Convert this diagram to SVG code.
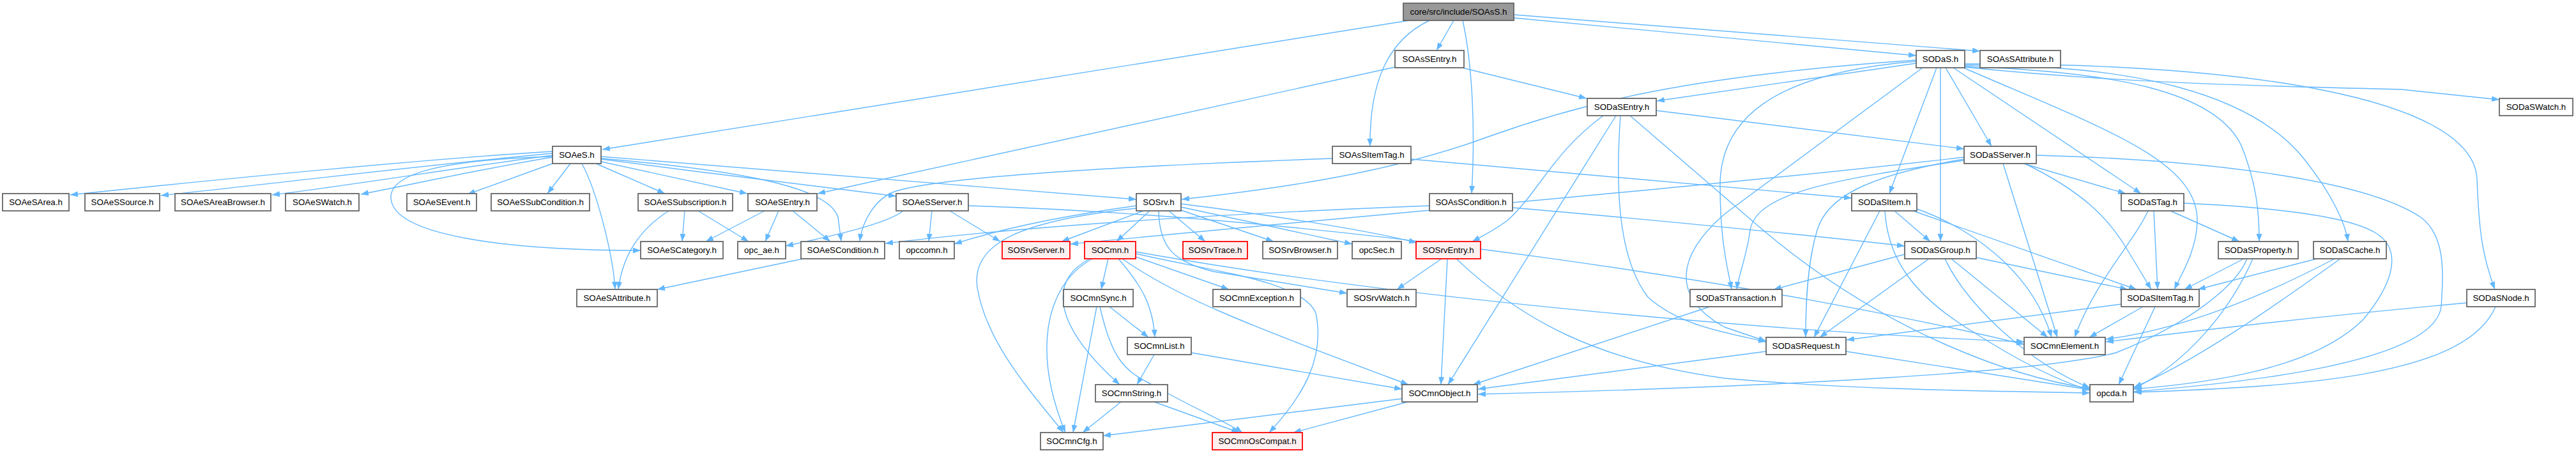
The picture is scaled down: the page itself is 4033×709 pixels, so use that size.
<svg xmlns="http://www.w3.org/2000/svg" width="4033" height="709" viewBox="0 0 4033 709">
<style>
.n rect{fill:#ffffff;stroke:#666666;stroke-width:1.8}
.r rect{fill:#fff0f0;stroke:#ff0000;stroke-width:1.8}
.root rect{fill:#999999;stroke:#666666;stroke-width:1.8}
text{font-family:"Liberation Sans",Arial,sans-serif;font-size:13.33px;fill:#000000;text-anchor:middle}
.e path{fill:none;stroke:#63b8ff;stroke-width:1.4;marker-end:url(#a)}
</style>
<defs>
<marker id="a" markerUnits="userSpaceOnUse" markerWidth="13" markerHeight="10" refX="12" refY="4.5" orient="auto">
<path d="M0,0 L12,4.5 L0,9 z" fill="#63b8ff"/>
</marker>
</defs>
<rect width="4033" height="709" fill="#ffffff"/>
<g class="e" id="edges">
<path d="M2206,32 L943,234"/>
<path d="M2276,32 L2249,79"/>
<path d="M2238,32 C2175,62 2144,125 2145,229"/>
<path d="M2290,32 C2305,100 2310,200 2304,303"/>
<path d="M2370,28 L3000,87"/>
<path d="M2370,23 L3100,80"/>
<path d="M2289,106 L2484,154"/>
<path d="M2184,105 L1280,303"/>
<path d="M3000,99 L2594,158"/>
<path d="M3000,94 C2650,118 2480,160 2330,214 C2200,262 2050,290 1850,312"/>
<path d="M3000,96 C2770,115 2693,190 2693,290 C2693,380 2705,420 2711,453"/>
<path d="M3010,106 L2700,335 C2625,400 2615,465 2700,512 L2765,534"/>
<path d="M3032,106 L2958,303"/>
<path d="M3038,106 L3038,378"/>
<path d="M3046,106 L3118,229"/>
<path d="M3058,106 L3352,303"/>
<path d="M3074,106 C3290,200 3440,250 3440,345 C3440,390 3415,430 3404,453"/>
<path d="M3076,104 C3300,112 3470,140 3510,230 C3533,290 3537,330 3537,378"/>
<path d="M3076,102 C3350,100 3520,150 3600,240 C3650,300 3672,350 3676,378"/>
<path d="M3076,100 C3500,98 3872,150 3878,280 C3881,360 3886,400 3906,453"/>
<path d="M3076,105 C3300,128 3500,134 3760,140 L3913,156"/>
<path d="M3075,246 C2700,290 2100,340 1676,382"/>
<path d="M3075,251 C2880,280 2750,300 2740,360 C2735,400 2722,430 2719,453"/>
<path d="M3075,249 C2920,275 2860,310 2845,360 C2830,410 2827,470 2827,528"/>
<path d="M3136,256 L3221,528"/>
<path d="M3168,256 L3328,303"/>
<path d="M3170,256 C3260,300 3300,340 3330,390 L3368,453"/>
<path d="M3188,243 C3450,250 3700,280 3790,340 C3830,370 3825,430 3822,480 C3810,570 3500,600 3341,613"/>
<path d="M3419,318 C3570,325 3680,340 3720,365 C3760,390 3750,440 3700,500 C3620,580 3450,600 3341,609"/>
<path d="M3363,330 C3340,380 3280,440 3248,528"/>
<path d="M3372,330 L3378,453"/>
<path d="M3398,330 L3506,378"/>
<path d="M2943,330 L2840,528"/>
<path d="M2951,330 C2955,400 2990,460 3090,520 C3160,565 3220,595 3272,611"/>
<path d="M2966,330 L3022,378"/>
<path d="M2995,330 L3345,453"/>
<path d="M3001,327 C3080,355 3180,420 3212,528"/>
<path d="M2982,398 L2777,453"/>
<path d="M3020,405 L2849,528"/>
<path d="M3045,405 C3080,480 3180,570 3272,607"/>
<path d="M3055,405 L3206,528"/>
<path d="M3094,403 L3331,453"/>
<path d="M3513,405 L3420,453"/>
<path d="M3518,405 C3500,450 3420,510 3313,552 C3200,582 2800,605 2314,617"/>
<path d="M3527,405 C3490,490 3420,570 3341,608"/>
<path d="M3627,405 L3441,453"/>
<path d="M3655,405 C3550,460 3420,515 3297,531"/>
<path d="M3664,405 C3560,480 3430,570 3341,606"/>
<path d="M3862,474 C3600,498 3420,520 3297,535"/>
<path d="M3907,480 C3860,590 3600,605 3341,614"/>
<path d="M3321,476 L2891,532"/>
<path d="M3355,480 L3271,528"/>
<path d="M3374,480 L3317,602"/>
<path d="M2890,550 L3272,610"/>
<path d="M2765,550 L2314,609"/>
<path d="M2257,405 L2187,453"/>
<path d="M2266,405 L2256,602"/>
<path d="M2280,405 C2380,500 2500,565 2700,592 C2900,610 3100,612 3272,615"/>
<path d="M1800,330 L1748,378"/>
<path d="M1830,330 L1887,378"/>
<path d="M1849,329 L1994,378"/>
<path d="M1849,324 L2117,382"/>
<path d="M1849,319 C2000,338 2150,362 2218,380"/>
<path d="M1790,330 L1662,378"/>
<path d="M1779,322 C1650,340 1560,360 1494,382"/>
<path d="M1779,326 C1600,345 1520,380 1530,450 C1545,540 1620,620 1665,677"/>
<path d="M1814,330 C1815,390 1840,410 1900,425 L2109,459"/>
<path d="M1735,405 L1724,453"/>
<path d="M1751,405 C1790,450 1805,480 1808,528"/>
<path d="M1778,402 L1924,453"/>
<path d="M1706,405 C1640,440 1650,510 1753,602"/>
<path d="M1710,405 C1630,450 1620,560 1668,677"/>
<path d="M1757,405 C1850,470 1960,510 2205,602"/>
<path d="M1778,397 C1900,425 2040,440 2060,490 C2075,560 2040,620 1987,677"/>
<path d="M1778,394 C2200,470 2800,520 3169,535"/>
<path d="M1737,480 L1798,528"/>
<path d="M1717,480 L1680,677"/>
<path d="M1722,480 C1740,560 1760,580 1800,600 C1870,640 1920,660 1945,677"/>
<path d="M1807,555 L1780,602"/>
<path d="M1865,552 L2195,609"/>
<path d="M1755,629 L1695,677"/>
<path d="M1807,629 L1940,677"/>
<path d="M2195,624 L1727,682"/>
<path d="M2204,629 L2025,677"/>
<path d="M2510,181 C2430,240 2410,300 2360,345 C2340,360 2320,370 2305,378"/>
<path d="M2530,181 L2267,602"/>
<path d="M2537,181 C2530,280 2530,400 2580,465 C2630,510 2700,520 2765,535"/>
<path d="M2552,181 L2760,360 C2950,520 3150,590 3272,608"/>
<path d="M2593,173 L3075,233"/>
<path d="M2677,480 L2306,602"/>
<path d="M1487,330 L1566,378"/>
<path d="M1459,330 L1454,378"/>
<path d="M1414,330 C1390,350 1300,370 1230,385"/>
<path d="M1516,322 C2100,340 2800,450 3169,539"/>
<path d="M1047,330 C1000,360 975,400 968,453"/>
<path d="M1072,330 L1068,378"/>
<path d="M1093,330 L1172,378"/>
<path d="M1197,330 L1105,378"/>
<path d="M1219,330 L1198,378"/>
<path d="M1241,330 L1300,378"/>
<path d="M865,237 C650,250 350,280 110,305"/>
<path d="M865,240 C650,260 450,285 252,306"/>
<path d="M865,243 C700,265 550,290 426,305"/>
<path d="M865,246 C750,265 640,290 565,304"/>
<path d="M865,256 L732,304"/>
<path d="M893,256 L857,303"/>
<path d="M933,256 L1041,303"/>
<path d="M941,253 L1170,303"/>
<path d="M941,249 C1100,270 1300,295 1403,307"/>
<path d="M941,245 C1200,265 1500,290 1779,312"/>
<path d="M865,245 C700,250 610,270 612,310 C615,370 800,392 1003,392"/>
<path d="M911,256 C935,300 960,400 963,453"/>
<path d="M941,248 C1200,270 1300,300 1312,340 L1317,378"/>
<path d="M1257,405 L1029,453"/>
<path d="M2086,248 C1700,262 1460,280 1400,300 C1370,312 1350,345 1346,378"/>
<path d="M2209,249 L2899,310"/>
<path d="M2238,322 C1900,335 1600,355 1386,381"/>
<path d="M2368,325 C2600,345 2850,370 2982,385"/>
</g>
<g id="root" class="root"><rect x="2197" y="5" width="173" height="27"/><text x="2283.5" y="23">core/src/include/SOAsS.h</text></g>
<g id="SOAsSEntry" class="n"><rect x="2184" y="79" width="108" height="27"/><text x="2238" y="97">SOAsSEntry.h</text></g>
<g id="SODaS" class="n"><rect x="3000" y="79" width="76" height="27"/><text x="3038" y="97">SODaS.h</text></g>
<g id="SOAsSAttribute" class="n"><rect x="3100" y="79" width="126" height="27"/><text x="3163" y="97">SOAsSAttribute.h</text></g>
<g id="SODaSEntry" class="n"><rect x="2485" y="154" width="108" height="27"/><text x="2539" y="172">SODaSEntry.h</text></g>
<g id="SODaSWatch" class="n"><rect x="3913" y="154" width="115" height="27"/><text x="3970.5" y="172">SODaSWatch.h</text></g>
<g id="SOAeS" class="n"><rect x="865" y="229" width="76" height="27"/><text x="903" y="247">SOAeS.h</text></g>
<g id="SOAsSItemTag" class="n"><rect x="2086" y="229" width="123" height="27"/><text x="2147.5" y="247">SOAsSItemTag.h</text></g>
<g id="SODaSServer" class="n"><rect x="3075" y="229" width="113" height="27"/><text x="3131.5" y="247">SODaSServer.h</text></g>
<g id="SOAeSArea" class="n"><rect x="4" y="303" width="104" height="27"/><text x="56" y="321">SOAeSArea.h</text></g>
<g id="SOAeSSource" class="n"><rect x="133" y="303" width="117" height="27"/><text x="191.5" y="321">SOAeSSource.h</text></g>
<g id="SOAeSAreaBrowser" class="n"><rect x="274" y="303" width="150" height="27"/><text x="349" y="321">SOAeSAreaBrowser.h</text></g>
<g id="SOAeSWatch" class="n"><rect x="447" y="303" width="115" height="27"/><text x="504.5" y="321">SOAeSWatch.h</text></g>
<g id="SOAeSEvent" class="n"><rect x="637" y="303" width="109" height="27"/><text x="691.5" y="321">SOAeSEvent.h</text></g>
<g id="SOAeSSubCondition" class="n"><rect x="769" y="303" width="154" height="27"/><text x="846" y="321">SOAeSSubCondition.h</text></g>
<g id="SOAeSSubscription" class="n"><rect x="999" y="303" width="148" height="27"/><text x="1073" y="321">SOAeSSubscription.h</text></g>
<g id="SOAeSEntry" class="n"><rect x="1171" y="303" width="108" height="27"/><text x="1225" y="321">SOAeSEntry.h</text></g>
<g id="SOAeSServer" class="n"><rect x="1403" y="303" width="113" height="27"/><text x="1459.5" y="321">SOAeSServer.h</text></g>
<g id="SOSrv" class="n"><rect x="1779" y="303" width="70" height="27"/><text x="1814" y="321">SOSrv.h</text></g>
<g id="SOAsSCondition" class="n"><rect x="2238" y="303" width="130" height="27"/><text x="2303" y="321">SOAsSCondition.h</text></g>
<g id="SODaSItem" class="n"><rect x="2899" y="303" width="102" height="27"/><text x="2950" y="321">SODaSItem.h</text></g>
<g id="SODaSTag" class="n"><rect x="3321" y="303" width="98" height="27"/><text x="3370" y="321">SODaSTag.h</text></g>
<g id="SOAeSCategory" class="n"><rect x="1003" y="378" width="129" height="27"/><text x="1067.5" y="396">SOAeSCategory.h</text></g>
<g id="opc_ae" class="n"><rect x="1155" y="378" width="75" height="27"/><text x="1192.5" y="396">opc_ae.h</text></g>
<g id="SOAeSCondition" class="n"><rect x="1254" y="378" width="131" height="27"/><text x="1319.5" y="396">SOAeSCondition.h</text></g>
<g id="opccomn" class="n"><rect x="1408" y="378" width="86" height="27"/><text x="1451" y="396">opccomn.h</text></g>
<g id="SOSrvServer" class="r"><rect x="1569" y="378" width="106" height="27"/><text x="1622" y="396">SOSrvServer.h</text></g>
<g id="SOCmn" class="r"><rect x="1698" y="378" width="80" height="27"/><text x="1738" y="396">SOCmn.h</text></g>
<g id="SOSrvTrace" class="r"><rect x="1852" y="378" width="101" height="27"/><text x="1902.5" y="396">SOSrvTrace.h</text></g>
<g id="SOSrvBrowser" class="n"><rect x="1977" y="378" width="117" height="27"/><text x="2035.5" y="396">SOSrvBrowser.h</text></g>
<g id="opcSec" class="n"><rect x="2117" y="378" width="77" height="27"/><text x="2155.5" y="396">opcSec.h</text></g>
<g id="SOSrvEntry" class="r"><rect x="2217" y="378" width="101" height="27"/><text x="2267.5" y="396">SOSrvEntry.h</text></g>
<g id="SODaSGroup" class="n"><rect x="2982" y="378" width="112" height="27"/><text x="3038" y="396">SODaSGroup.h</text></g>
<g id="SODaSProperty" class="n"><rect x="3473" y="378" width="125" height="27"/><text x="3535.5" y="396">SODaSProperty.h</text></g>
<g id="SODaSCache" class="n"><rect x="3622" y="378" width="114" height="27"/><text x="3679" y="396">SODaSCache.h</text></g>
<g id="SOAeSAttribute" class="n"><rect x="903" y="453" width="126" height="27"/><text x="966" y="471">SOAeSAttribute.h</text></g>
<g id="SOCmnSync" class="n"><rect x="1665" y="453" width="109" height="27"/><text x="1719.5" y="471">SOCmnSync.h</text></g>
<g id="SOCmnException" class="n"><rect x="1899" y="453" width="137" height="27"/><text x="1967.5" y="471">SOCmnException.h</text></g>
<g id="SOSrvWatch" class="n"><rect x="2109" y="453" width="108" height="27"/><text x="2163" y="471">SOSrvWatch.h</text></g>
<g id="SODaSTransaction" class="n"><rect x="2646" y="453" width="144" height="27"/><text x="2718" y="471">SODaSTransaction.h</text></g>
<g id="SODaSItemTag" class="n"><rect x="3321" y="453" width="122" height="27"/><text x="3382" y="471">SODaSItemTag.h</text></g>
<g id="SODaSNode" class="n"><rect x="3862" y="453" width="107" height="27"/><text x="3915.5" y="471">SODaSNode.h</text></g>
<g id="SOCmnList" class="n"><rect x="1765" y="528" width="100" height="27"/><text x="1815" y="546">SOCmnList.h</text></g>
<g id="SODaSRequest" class="n"><rect x="2765" y="528" width="125" height="27"/><text x="2827.5" y="546">SODaSRequest.h</text></g>
<g id="SOCmnElement" class="n"><rect x="3169" y="528" width="127" height="27"/><text x="3232.5" y="546">SOCmnElement.h</text></g>
<g id="SOCmnString" class="n"><rect x="1715" y="602" width="113" height="27"/><text x="1771.5" y="620">SOCmnString.h</text></g>
<g id="SOCmnObject" class="n"><rect x="2195" y="602" width="118" height="27"/><text x="2254" y="620">SOCmnObject.h</text></g>
<g id="opcda" class="n"><rect x="3272" y="602" width="68" height="27"/><text x="3306" y="620">opcda.h</text></g>
<g id="SOCmnCfg" class="n"><rect x="1629" y="677" width="98" height="27"/><text x="1678" y="695">SOCmnCfg.h</text></g>
<g id="SOCmnOsCompat" class="r"><rect x="1898" y="677" width="141" height="27"/><text x="1968.5" y="695">SOCmnOsCompat.h</text></g>
</svg>
